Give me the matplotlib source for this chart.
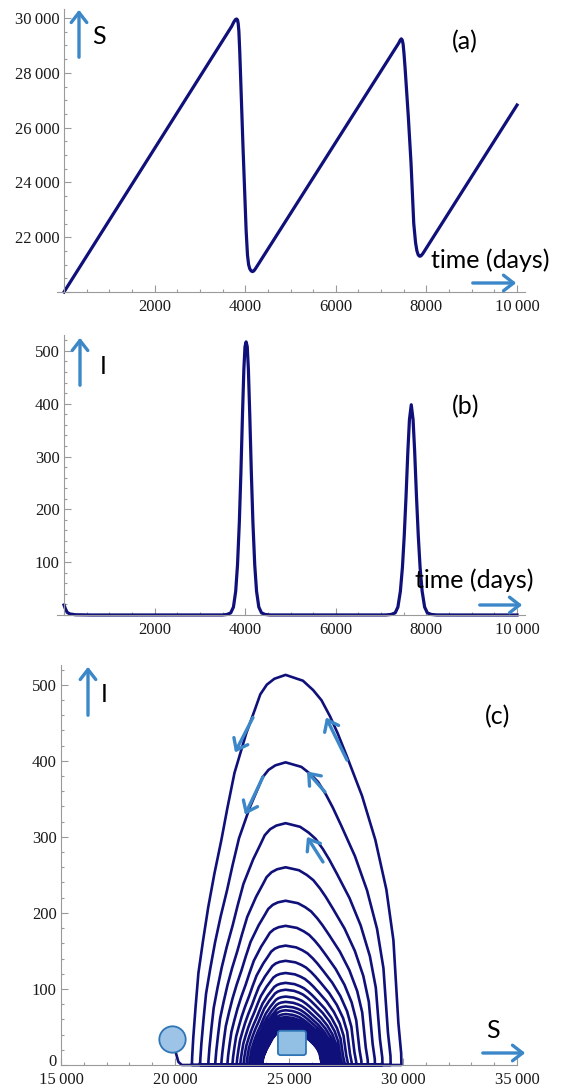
import numpy as np
import matplotlib
matplotlib.use('Agg')
import matplotlib.pyplot as plt
from matplotlib.ticker import MultipleLocator, FuncFormatter
from matplotlib.patches import FancyArrowPatch, FancyBboxPatch

# (a) susceptibles S over time (days)
T_A = [0, 3700, 3750, 3785, 3810, 3830, 3845, 3860, 3880, 3951, 4020, 4050, 4075, 4100,
       4130, 4160, 4190, 4230,
       7390, 7420, 7445, 7465, 7485, 7505, 7530, 7600, 7660, 7720, 7760, 7790, 7820,
       7850, 7880, 7920, 10000]
S_A = [20000, 29694, 29860, 29945, 29965, 29930, 29800, 29520, 28750, 25300, 22250, 21350,
       21000, 20850, 20770, 20745, 20770, 20860,
       29090, 29190, 29240, 29200, 29050, 28700, 28150, 26400, 24700, 22500, 21800, 21500,
       21350, 21305, 21320, 21400, 26825]

# (b) infectives I over time (days)
T_B = [0, 30, 70, 130, 250, 600,
       3500, 3600, 3680, 3740, 3790, 3830, 3870, 3905, 3940, 3970, 3995, 4020,
       4045, 4070, 4100, 4135, 4170, 4210, 4250, 4300, 4360, 4440, 4550,
       7100, 7220, 7310, 7370, 7425, 7470, 7510, 7550, 7590, 7625, 7665,
       7705, 7740, 7780, 7820, 7860, 7905, 7960, 8020, 8110, 8230, 10000]
I_B = [19, 12, 5, 2, 0.5, 0.05,
       0.1, 1, 4, 15, 45, 95, 175, 270, 380, 465, 508, 517,
       508, 465, 380, 270, 175, 95, 45, 15, 4, 1, 0.1,
       0.1, 1, 4, 15, 45, 90, 150, 225, 310, 370, 398,
       370, 310, 225, 150, 90, 45, 15, 4, 1, 0.1, 0]

# (c) phase plane: one arch per epidemic, S at the foot of each side and I at the top
LOOP_PEAK_I = [513, 398, 318, 260, 216, 183, 157, 137, 121, 108, 99, 90,
               83, 77, 72, 67, 63, 60, 57, 55, 53, 51, 50, 49, 48, 47]
LOOP_RIGHT_S = [29930, 29460, 29100, 28770, 28460, 28180, 27950, 27750, 27580, 27440, 27320, 27210,
                27110, 27010, 26920, 26840, 26770, 26710, 26660, 26610, 26570, 26540, 26510,
                26490, 26470, 26450]
LOOP_LEFT_S = [20740, 21100, 21460, 21764, 22030, 22294, 22515, 22700, 22860, 23000, 23130, 23250,
               23350, 23430, 23500, 23560, 23610, 23650, 23685, 23715, 23740, 23760, 23775,
               23790, 23800, 23810]
PEAK_S = 24850
# arch outline (I / peak, distance from peak S / half width)
ARCH_RIGHT_V = [0.0, 0.03, 0.107, 0.2, 0.32, 0.45, 0.577, 0.69, 0.789, 0.85, 0.893,
                0.935, 0.961, 0.985, 1.0]
ARCH_RIGHT_U = [1.0, 0.998, 0.974, 0.955, 0.931, 0.87, 0.775, 0.66, 0.532, 0.45, 0.385,
                0.31, 0.238, 0.15, 0.0]
ARCH_LEFT_V = [1.0, 0.99, 0.975, 0.95, 0.91, 0.85, 0.749, 0.66, 0.577, 0.49, 0.405,
               0.32, 0.236, 0.15, 0.07, 0.02, 0.0]
ARCH_LEFT_U = [0.0, 0.12, 0.2, 0.27, 0.329, 0.42, 0.545, 0.62, 0.685, 0.76, 0.825,
               0.88, 0.93, 0.96, 0.985, 0.997, 1.0]
START = (20000, 20)
START_BOTTOM = [(20150, 4), (20300, 0)]
CIRCLE = (19870, 34)
EQUILIBRIUM = (25130, 29)
FLOW_ARROWS = [((23421, 457), (22632, 411)), ((23860, 379), (23070, 329)),
               ((27544, 401), (26623, 457)), ((26579, 359), (25789, 386)),
               ((26491, 267), (25789, 300))]

W, H = 569, 1091
NAVY = '#10107a'
ARROW = '#3c87c8'
GREY = '#9a9a9a'

plt.rcParams['font.family'] = ['Liberation Serif', 'DejaVu Serif']


def px_rect(x0, x1, y_top, y_bot):
    return [x0 / W, 1 - y_bot / H, (x1 - x0) / W, (y_bot - y_top) / H]


def fmt(skip):
    def f(v, pos):
        v = int(round(v))
        if v == skip:
            return ''
        if v >= 10000:
            return '{:,}'.format(v).replace(',', '\u2009')
        return str(v)
    return FuncFormatter(f)


def style(ax, xmaj, xmin, ymaj, ymin, xskip, yskip):
    for side in ['top', 'right']:
        ax.spines[side].set_visible(False)
    for side in ['left', 'bottom']:
        ax.spines[side].set_color(GREY)
        ax.spines[side].set_linewidth(0.8)
    ax.xaxis.set_major_locator(MultipleLocator(xmaj))
    ax.xaxis.set_minor_locator(MultipleLocator(xmin))
    ax.yaxis.set_major_locator(MultipleLocator(ymaj))
    ax.yaxis.set_minor_locator(MultipleLocator(ymin))
    ax.xaxis.set_major_formatter(fmt(xskip))
    ax.yaxis.set_major_formatter(fmt(yskip))
    ax.tick_params(which='both', direction='in', color=GREY, width=0.8,
                   labelsize=12, labelcolor='#1a1a1a')
    ax.tick_params(which='major', length=5)
    ax.tick_params(which='minor', length=2.5)
    ax.tick_params(axis='x', pad=5)
    ax.tick_params(axis='y', pad=3)
    ax.patch.set_alpha(0)


def fig_xy(x, y):
    return (x / W, 1 - y / H)


def label(fig, x, y, s):
    fig.text(x / W, 1 - y / H, s, ha='center', va='center',
             family='Lato', fontsize=18, color='black')


def arrow(fig, tail, head):
    fig.add_artist(FancyArrowPatch(fig_xy(*tail), fig_xy(*head),
                                   transform=fig.transFigure,
                                   arrowstyle='->,head_length=0.45,head_width=0.35',
                                   mutation_scale=16, lw=2.4, color=ARROW))


def phase_path():
    s = [START[0]] + [p[0] for p in START_BOTTOM]
    i = [START[1]] + [p[1] for p in START_BOTTOM]
    ur, vr = np.array(ARCH_RIGHT_U), np.array(ARCH_RIGHT_V)
    ul, vl = np.array(ARCH_LEFT_U), np.array(ARCH_LEFT_V)
    for peak, left, right in zip(LOOP_PEAK_I, LOOP_LEFT_S, LOOP_RIGHT_S):
        s.extend(PEAK_S + (right - PEAK_S) * ur)
        i.extend(peak * vr)
        s.extend(PEAK_S - (PEAK_S - left) * ul)
        i.extend(peak * vl)
    return s, i


def main():
    fig = plt.figure(figsize=(W / 100, H / 100), dpi=100)

    # (a)
    ax_a = fig.add_axes(px_rect(57.2, 525.2, 9, 292))
    ax_a.plot(T_A, S_A, color=NAVY, lw=2.3, clip_on=False, solid_joinstyle='round')
    ax_a.set_xlim(-150, 10180)
    ax_a.set_ylim(20000, 30330)
    ax_a.spines['left'].set_position(('data', 0))
    style(ax_a, 2000, 500, 2000, 500, 0, 20000)
    arrow(fig, (79, 60), (79, 7))
    label(fig, 99, 36, 'S')
    label(fig, 465, 42, '(a)')
    label(fig, 490, 260, 'time (days)')
    arrow(fig, (470, 283), (519, 283))

    # (b)
    ax_b = fig.add_axes(px_rect(57.2, 525.2, 335, 615))
    ax_b.plot(T_B, I_B, color=NAVY, lw=2.3, clip_on=False, solid_joinstyle='round')
    ax_b.set_xlim(-150, 10180)
    ax_b.set_ylim(0, 530)
    ax_b.spines['left'].set_position(('data', 0))
    style(ax_b, 2000, 500, 100, 20, 0, 0)
    arrow(fig, (80, 388), (80, 335))
    label(fig, 103, 367, 'I')
    label(fig, 466, 407, '(b)')
    label(fig, 474, 580, 'time (days)')
    arrow(fig, (477, 605), (525, 605))

    # (c)
    ax_c = fig.add_axes(px_rect(61, 517, 665, 1065))
    s, i = phase_path()
    ax_c.plot(s, i, color=NAVY, lw=1.9, clip_on=False, solid_joinstyle='round')
    ax_c.set_xlim(15000, 35000)
    ax_c.set_ylim(0, 526)
    style(ax_c, 5000, 1000, 100, 20, None, 0)
    ax_c.annotate('0', (15000, 0), xytext=(-3, 2), textcoords='offset points',
                  ha='right', va='center', fontsize=12, color='#1a1a1a')
    ax_c.plot([CIRCLE[0]], [CIRCLE[1]], 'o', ms=19, mfc='#9dc3e6', mec='#2e75b6',
              mew=1.3, clip_on=False, zorder=5)
    ax_c.add_patch(FancyBboxPatch((EQUILIBRIUM[0] - 615, EQUILIBRIUM[1] - 16), 1230, 32,
                                  boxstyle='round,pad=0,rounding_size=120',
                                  mutation_aspect=0.025, fc='#92bfe4', ec='#2e75b6',
                                  lw=1.3, zorder=5))
    for tail, head in FLOW_ARROWS:
        ax_c.annotate('', xy=head, xytext=tail,
                      arrowprops=dict(arrowstyle='->,head_length=0.45,head_width=0.35',
                                      mutation_scale=16, lw=2.4, color=ARROW,
                                      shrinkA=0, shrinkB=0))
    arrow(fig, (88, 718), (88, 664))
    label(fig, 104, 695, 'I')
    label(fig, 498, 717, '(c)')
    label(fig, 493, 1031, 'S')
    arrow(fig, (480, 1053), (528, 1053))

    fig.savefig('out.png', dpi=100)


if __name__ == '__main__':
    main()
